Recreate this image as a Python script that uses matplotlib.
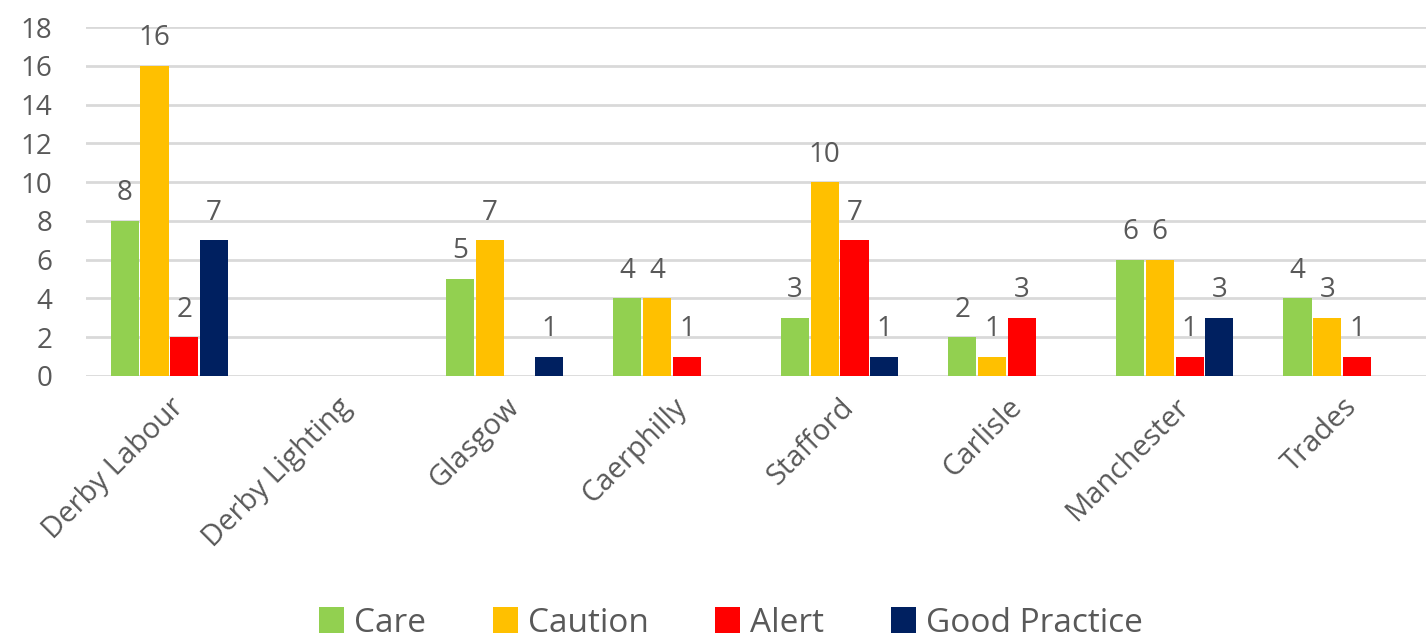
import numpy as np
import matplotlib
matplotlib.use("Agg")
import matplotlib.pyplot as plt

# categories and counts per series
sites = ["Derby Labour", "Derby Lighting", "Glasgow", "Caerphilly",
         "Stafford", "Carlisle", "Manchester", "Trades"]
care = [8, 0, 5, 4, 3, 2, 6, 4]
caution = [16, 0, 7, 4, 10, 1, 6, 3]
alert = [2, 0, 0, 1, 7, 3, 1, 1]
good_practice = [7, 0, 1, 0, 1, 0, 3, 0]

series = [("Care", care, "#92D050"),
          ("Caution", caution, "#FFC000"),
          ("Alert", alert, "#FF0000"),
          ("Good Practice", good_practice, "#002060")]

plt.rcParams['font.family'] = ['Open Sans', 'DejaVu Sans']
txt = "#595959"

fig = plt.figure(figsize=(14.28, 6.39), dpi=100)
ax = fig.add_axes([0.060, 0.4116, 0.9386, 0.5461])

x = np.arange(len(sites))
w = 0.168
step = 0.178
for i, (name, vals, col) in enumerate(series):
	pos = x + (i - 1.5) * step
	bars = ax.bar(pos, vals, width=w, color=col, label=name, zorder=3)
	# only non-zero values get a label
	for b, v in zip(bars, vals):
		if v > 0:
			ax.text(b.get_x() + b.get_width() / 2, v + 0.7, str(v),
					ha="center", va="bottom", fontsize=20, color=txt)

ax.set_xlim(-0.5, len(sites) - 0.5)
ax.set_ylim(0, 18)
ax.set_yticks(range(0, 19, 2))
ax.yaxis.grid(True, color="#D9D9D9", linewidth=2, zorder=0)
ax.set_axisbelow(True)
for s in ax.spines.values():
	s.set_visible(False)
ax.tick_params(axis="both", length=0, colors=txt, labelsize=20)
ax.tick_params(axis="y", pad=24)
ax.set_xticks(x)
ax.set_xticklabels(sites, rotation=45, ha="right", va="top",
				   rotation_mode="anchor", fontsize=21)
ax.tick_params(axis="x", pad=12)

leg = fig.legend(loc="lower center", ncol=4, frameon=False, fontsize=24,
				 bbox_to_anchor=(0.512, -0.048), handlelength=0.75,
				 handleheight=0.85, handletextpad=0.3, columnspacing=2.0)
for t in leg.get_texts():
	t.set_color(txt)

fig.savefig("out.png", dpi=100)
